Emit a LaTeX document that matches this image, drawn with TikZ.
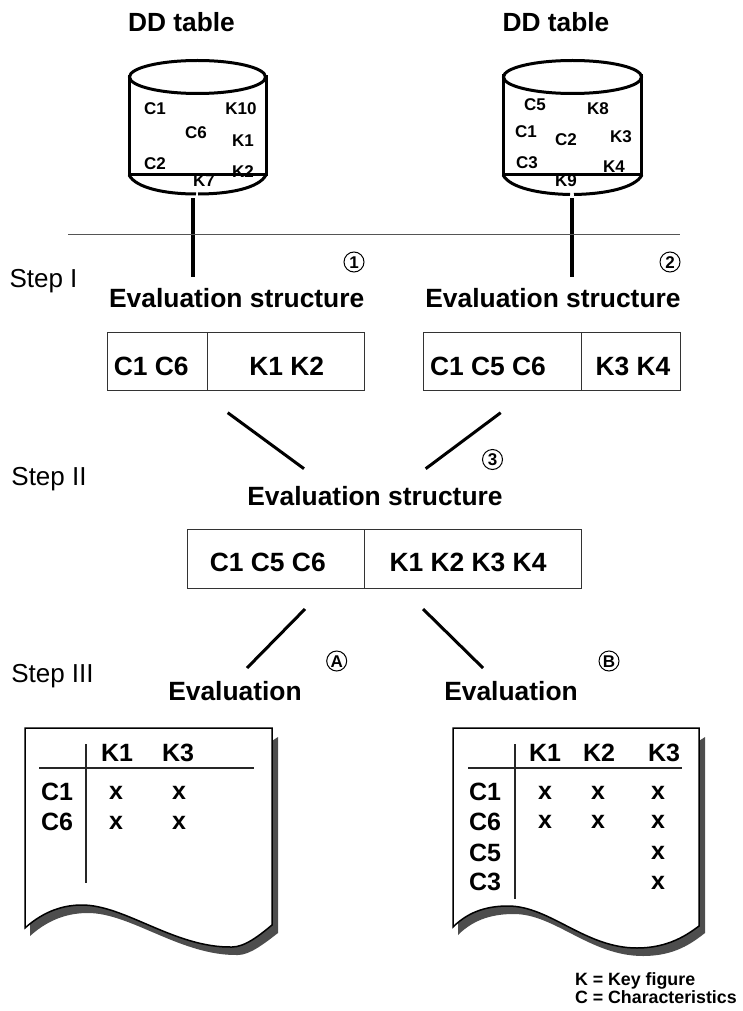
\documentclass[tikz,border=0pt]{standalone}
\usepackage{fontspec}
\setmainfont{Liberation Sans}
\definecolor{shade}{HTML}{4D4D4D}
\definecolor{rule}{HTML}{555555}
\tikzset{
  every node/.style={inner sep=0pt,outer sep=0pt},
  head/.style={font=\fontsize{26.4}{30}\selectfont\bfseries,text height=19pt,text depth=0pt},
  dbtitle/.style={font=\fontsize{26.3}{30}\selectfont\bfseries,text height=19pt,text depth=0pt},
  steplabel/.style={font=\fontsize{26}{30}\selectfont,text height=19pt,text depth=0pt},
  boxtext/.style={font=\fontsize{26.4}{30}\selectfont\bfseries,text height=19pt,text depth=0pt},
  tabletext/.style={font=\fontsize{25}{28}\selectfont\bfseries,text height=18pt,text depth=0pt},
  mark x/.style={font=\fontsize{25}{28}\selectfont\bfseries,text height=13pt,text depth=0pt},
  dblabel/.style={font=\fontsize{17}{20}\selectfont\bfseries,text height=12pt,text depth=0pt},
  legend/.style={font=\fontsize{17.8}{20}\selectfont\bfseries,anchor=west,text height=13pt,text depth=0pt},
  circ/.style={circle,draw=black,line width=1pt,minimum size=20pt,font=\fontsize{17}{18}\selectfont\bfseries,text height=12pt,text depth=0pt},
  db/.style={line width=3pt},
  tie/.style={line width=4pt},
  link/.style={line width=3pt},
  cell/.style={draw=black!80,line width=1pt},
  paperedge/.style={draw=black,line width=1.5pt,fill=white},
  papershade/.style={fill=shade,draw=none},
  gridline/.style={line width=1.5pt,draw=black!85},
}
\begin{document}
\begin{tikzpicture}[x=1pt,y=-1pt]
\useasboundingbox (0,0) rectangle (743,1011);

% titles
\node[dbtitle] (t1) at (181.5,22) {DD table};
\node[dbtitle] (t2) at (556,22) {DD table};

% cylinder labels
\node[dblabel] (a1) at (155,109) {C1};
\node[dblabel] (a2) at (241,109) {K10};
\node[dblabel] (a3) at (196,133) {C6};
\node[dblabel] (a4) at (243,141) {K1};
\node[dblabel] (a5) at (155,164) {C2};
\node[dblabel] (a6) at (243,172) {K2};
\node[dblabel] (a7) at (204,180) {K7};
\node[dblabel] (b1) at (535,105) {C5};
\node[dblabel] (b2) at (598,109) {K8};
\node[dblabel] (b3) at (526,132) {C1};
\node[dblabel] (b4) at (566,140) {C2};
\node[dblabel] (b5) at (621,137) {K3};
\node[dblabel] (b6) at (527,163) {C3};
\node[dblabel] (b7) at (614,167) {K4};
\node[dblabel] (b8) at (566,180) {K9};

% cylinders
\draw[db] (197.5,77) ellipse [x radius=68,y radius=16.5];
\draw[db] (129.5,75) -- (129.5,174.5) -- (266,174.5) -- (266,75);
\draw[db] (129,175) .. controls (136,188) and (165,194) .. (196,194);
\draw[db] (198,194) .. controls (230,194) and (259,188) .. (266,175);
\draw[db] (572.5,77) ellipse [x radius=69,y radius=16.5];
\draw[db] (503.5,74) -- (503.5,175) -- (641.5,175) -- (641.5,74);
\draw[db] (503,175) .. controls (510,188) and (540,194) .. (570,194.5);
\draw[db] (574,194.5) .. controls (605,194) and (635,188) .. (642,175);

\coordinate (c1) at (192.7,198);
\coordinate (c2) at (572,198);
\coordinate (c1e) at (192.7,276.7);
\coordinate (c2e) at (572,276.7);
\draw[tie] (c1) -- (c1e);
\draw[tie] (c2) -- (c2e);

% rule
\coordinate (r1) at (68,234);
\coordinate (r2) at (680,234);
\draw[draw=rule,line width=1pt] (r1) -- (r2);

% step labels
\node[steplabel] (s1) at (43.5,277.5) {Step I};
\node[steplabel] (s2) at (49,476) {Step II};
\node[steplabel] (s3) at (52.5,672.5) {Step III};

% circled marks
\node[circ] (m1) at (354,262) {1};
\node[circ] (m2) at (670,262) {2};
\node[circ] (m3) at (492.5,459.5) {3};
\node[circ] (m4) at (336.7,661) {A};
\node[circ] (m5) at (609,661) {B};

% headings
\node[head] (h1) at (236.7,297.7) {Evaluation structure};
\node[head] (h2) at (553,297.7) {Evaluation structure};
\node[head] (h3) at (375,496) {Evaluation structure};
\node[head] (h4) at (235,690.5) {Evaluation};
\node[head] (h5) at (511,690.5) {Evaluation};

% boxes
\node[cell,minimum width=257pt,minimum height=58.3pt] (box1) at (236,361.8) {};
\node[cell,minimum width=256.3pt,minimum height=58.3pt] (box2) at (551.9,361.8) {};
\node[cell,minimum width=394.2pt,minimum height=59.4pt] (box3) at (384.6,559) {};
\coordinate (d1a) at (207,332.7); \coordinate (d1b) at (207,391);
\coordinate (d2a) at (581.7,332.7); \coordinate (d2b) at (581.7,391);
\coordinate (d3a) at (364.3,529.3); \coordinate (d3b) at (364.3,588.7);
\draw[cell] (d1a) -- (d1b);
\draw[cell] (d2a) -- (d2b);
\draw[cell] (d3a) -- (d3b);
\node[boxtext] (bt1) at (151.3,365.5) {C1 C6};
\node[boxtext] (bt2) at (286.7,365.5) {K1 K2};
\node[boxtext] (bt3) at (488,365.5) {C1 C5 C6};
\node[boxtext] (bt4) at (633,365.5) {K3 K4};
\node[boxtext] (bt5) at (267.8,562) {C1 C5 C6};
\node[boxtext] (bt6) at (468,562) {K1 K2 K3 K4};

% connectors
\coordinate (l1a) at (227.7,412.7); \coordinate (l1b) at (304,468.7);
\coordinate (l2a) at (500.7,412.7); \coordinate (l2b) at (425.7,468.7);
\coordinate (l3a) at (305,609); \coordinate (l3b) at (247,668);
\coordinate (l4a) at (423,609); \coordinate (l4b) at (483,668);
\draw[link] (l1a) -- (l1b);
\draw[link] (l2a) -- (l2b);
\draw[link] (l3a) -- (l3b);
\draw[link] (l4a) -- (l4b);

% left sheet
\fill[papershade] (30,900) -- (278,737) -- (278,933)
  .. controls (265,943) and (250,955) .. (238,955)
  .. controls (181,956) and (131,913) .. (88,913)
  .. controls (70,913) and (50,918) .. (30,936) -- cycle;
\draw[paperedge] (25,728) -- (272,728) -- (272,925)
  .. controls (260,935) and (245,947) .. (232,947)
  .. controls (175,948) and (125,905) .. (82,905)
  .. controls (65,905) and (45,910) .. (25,928) -- cycle;
\coordinate (g1a) at (86,744); \coordinate (g1b) at (86,883);
\coordinate (g2a) at (39,768); \coordinate (g2b) at (254,768);
\draw[gridline] (g1a) -- (g1b);
\draw[gridline] (g2a) -- (g2b);
\node[tabletext] at (117,752) (p1) {K1};
\node[tabletext] at (178,752) (p2) {K3};
\node[tabletext] at (57,791) (p3) {C1};
\node[tabletext] at (57,821) (p4) {C6};
\node[mark x] at (116,793) (p5) {x};
\node[mark x] at (179,793) (p6) {x};
\node[mark x] at (116,823) (p7) {x};
\node[mark x] at (179,823) (p8) {x};

% right sheet
\fill[papershade] (458,900) -- (705,737) -- (705,933)
  .. controls (692,943) and (675,956) .. (643,956)
  .. controls (590,956) and (555,914) .. (514,914)
  .. controls (495,914) and (475,918) .. (458,935) -- cycle;
\draw[paperedge] (453,728) -- (699,728) -- (699,926)
  .. controls (687,935) and (668,948) .. (637,948)
  .. controls (585,948) and (550,906) .. (508,906)
  .. controls (490,906) and (470,910) .. (453,927) -- cycle;
\coordinate (g3a) at (515,744); \coordinate (g3b) at (515,899);
\coordinate (g4a) at (468,768); \coordinate (g4b) at (682,768);
\draw[gridline] (g3a) -- (g3b);
\draw[gridline] (g4a) -- (g4b);
\node[tabletext] at (545,752) (q1) {K1};
\node[tabletext] at (599,752) (q2) {K2};
\node[tabletext] at (664,752) (q3) {K3};
\node[tabletext] at (485,791) (q4) {C1};
\node[tabletext] at (485,821) (q5) {C6};
\node[tabletext] at (485,852) (q6) {C5};
\node[tabletext] at (485,881) (q7) {C3};
\node[mark x] at (545,793) (x1) {x};
\node[mark x] at (598,793) (x2) {x};
\node[mark x] at (658,793) (x3) {x};
\node[mark x] at (545,822) (x4) {x};
\node[mark x] at (598,822) (x5) {x};
\node[mark x] at (658,822) (x6) {x};
\node[mark x] at (658,853) (x7) {x};
\node[mark x] at (658,883) (x8) {x};

% legend
\node[legend] (k1) at (575,979) {K = Key figure};
\node[legend] (k2) at (575,997) {C = Characteristics};
\end{tikzpicture}
\end{document}
